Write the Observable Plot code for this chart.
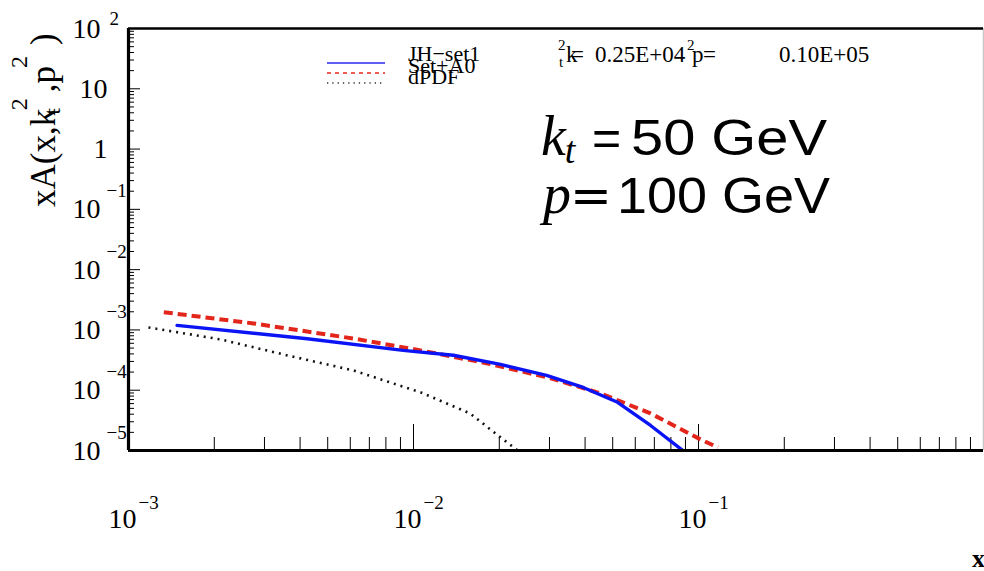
<!DOCTYPE html>
<html>
<head>
<meta charset="utf-8">
<script src="https://cdn.jsdelivr.net/npm/d3@7"></script>
<script src="https://cdn.jsdelivr.net/npm/@observablehq/plot@0.6"></script>
<style>
  html, body { margin: 0; padding: 0; background: #fff; overflow: hidden; }
  #chart svg { display: block; }
</style>
</head>
<body>
<div id="chart"></div>
<script>
// Unintegrated gluon density xA(x, kt^2, p^2) at kt = 50 GeV, p = 100 GeV

// JH-set1 (solid blue)
const jhX = [1.48e-3, 4.24e-3, 9.2e-3, 1.38e-2, 2.02e-2, 2.93e-2, 3.94e-2, 5.2e-2, 6.79e-2, 9.08e-2];
const jhY = [1.19e-3, 7.14e-4, 4.57e-4, 3.8e-4, 2.68e-4, 1.76e-4, 1.11e-4, 6.3e-5, 2.6e-5, 8.95e-6];

// Set+A0 (dashed red)
const setA0X = [1.33e-3, 2.75e-3, 6.15e-3, 1.06e-2, 1.82e-2, 3.03e-2, 4.53e-2, 6.79e-2, 0.1016, 0.117];
const setA0Y = [1.97e-3, 1.28e-3, 7.2e-4, 4.57e-4, 2.78e-4, 1.58e-4, 8.85e-5, 4.12e-5, 1.53e-5, 1.12e-5];

// dPDF (dotted black)
const dpdfX = [1.175e-3, 2.10e-3, 3.61e-3, 6.15e-3, 1.06e-2, 1.58e-2, 2.02e-2, 2.32e-2];
const dpdfY = [1.10e-3, 6.97e-4, 3.78e-4, 2.13e-4, 9.2e-5, 4.12e-5, 1.65e-5, 1.0e-5];

// Axis ticks and labels
const xDecades = [1e-3, 1e-2, 1e-1];
const xDecadeExps = ["\u22123", "\u22122", "\u22121"];
const xEdgeTick = [1];
const xEdgeLabel = ["1"];
const xMinor = [2,3,4,5,6,7,8,9].flatMap(m => [1e-3, 1e-2, 1e-1].map(d => m * d));

const yExpDecades = [1e-5, 1e-4, 1e-3, 1e-2, 1e-1];
const yDecadeExps = ["\u22125", "\u22124", "\u22123", "\u22122", "\u22121"];
const yTopDecade = [100];
const yTopExp = ["2"];
const yPlainDecades = [1, 10];
const yPlainLabels = ["1", "10"];
const yMajor = [1e-5, 1e-4, 1e-3, 1e-2, 1e-1, 1, 10, 100];
const yMinor = [2,3,4,5,6,7,8,9].flatMap(m => [1e-5, 1e-4, 1e-3, 1e-2, 1e-1, 1, 10].map(d => m * d));

const legendNames = ["JH\u2212set1", "Set+A0", "dPDF"];

const serif = "'Liberation Serif', 'Times New Roman', serif";
const sans = "'Liberation Sans', Arial, sans-serif";

const series = (xs, ys) => xs.map((x, i) => ({x, y: ys[i]}));

const W = 984, H = 571;
const mL = 128, mR = 1, mT = 28, mB = 121;
const innerW = W - mL - mR, innerH = H - mT - mB;

const labelStyle = {fontFamily: serif, fill: "#000", lineAnchor: "bottom"};

const chart = Plot.plot({
  width: W,
  height: H,
  marginLeft: mL,
  marginRight: mR,
  marginTop: mT,
  marginBottom: mB,
  style: {background: "#fff", overflow: "visible"},
  x: {type: "log", domain: [1e-3, 1], axis: null},
  y: {type: "log", domain: [1e-5, 100], axis: null},
  marks: [
    // inward tick marks
    Plot.ruleX(xMinor, {x: d => d, stroke: "#000", strokeWidth: 1, insetTop: innerH - 13}),
    Plot.ruleX(xDecades, {x: d => d, stroke: "#000", strokeWidth: 1, insetTop: innerH - 26}),
    Plot.ruleY(yMinor, {y: d => d, stroke: "#000", strokeWidth: 1, insetRight: innerW - 6}),
    Plot.ruleY(yMajor, {y: d => d, stroke: "#000", strokeWidth: 1, insetRight: innerW - 12}),

    // curves
    Plot.line(series(dpdfX, dpdfY), {x: "x", y: "y", stroke: "#111", strokeWidth: 2.6,
      strokeDasharray: "2,5", strokeLinecap: "butt", clip: true}),
    Plot.line(series(setA0X, setA0Y), {x: "x", y: "y", stroke: "#e3261b", strokeWidth: 4,
      strokeDasharray: "9,5", strokeLinecap: "butt", clip: true}),
    Plot.line(series(jhX, jhY), {x: "x", y: "y", stroke: "#0a14f5", strokeWidth: 3.4, clip: true}),

    // frame
    Plot.ruleX([1], {x: d => d, stroke: "#c8c8c8", strokeWidth: 1.5}),
    Plot.ruleY([100], {y: d => d, stroke: "#000", strokeWidth: 2.6}),
    Plot.ruleY([1e-5], {y: d => d, stroke: "#000", strokeWidth: 3.2}),
    Plot.ruleX([1e-3], {x: d => d, stroke: "#000", strokeWidth: 3.2}),

    // x tick labels
    Plot.text(xDecades, {...labelStyle, x: d => d, text: () => "10", frameAnchor: "bottom",
      textAnchor: "end", dx: 8, dy: 77, fontSize: 28}),
    Plot.text(xDecades, {...labelStyle, x: d => d, text: (d, i) => xDecadeExps[i], frameAnchor: "bottom",
      textAnchor: "start", dx: 10, dy: 58, fontSize: 19}),
    Plot.text(xEdgeTick, {...labelStyle, x: d => d, text: (d, i) => xEdgeLabel[i], frameAnchor: "bottom",
      textAnchor: "start", dx: -1, dy: 77, fontSize: 28}),

    // y tick labels
    Plot.text([...yExpDecades, ...yTopDecade], {...labelStyle, y: d => d, text: () => "10", frameAnchor: "left",
      textAnchor: "end", dx: -28, dy: 9, fontSize: 28}),
    Plot.text(yExpDecades, {...labelStyle, y: d => d, text: (d, i) => yDecadeExps[i], frameAnchor: "left",
      textAnchor: "start", dx: -22, dy: -12, fontSize: 19}),
    Plot.text(yTopDecade, {...labelStyle, y: d => d, text: (d, i) => yTopExp[i], frameAnchor: "left",
      textAnchor: "start", dx: -19, dy: -4, fontSize: 19}),
    Plot.text(yPlainDecades, {...labelStyle, y: d => d, text: (d, i) => yPlainLabels[i], frameAnchor: "left",
      textAnchor: "end", dx: -21, dy: 9, fontSize: 28})
  ]
});

document.getElementById("chart").appendChild(chart);

// Titles, legend and annotations drawn on top of the plot
const svg = d3.select(chart);
const g = svg.append("g").attr("text-anchor", "start");

// y-axis title: xA(x, k_t^2, p^2)
const yt = g.append("text")
  .attr("transform", "translate(55,207) rotate(-90)")
  .attr("font-family", serif).attr("font-size", 35).attr("fill", "#000");
yt.append("tspan").text("xA(x,k");
yt.append("tspan").attr("font-size", 24).attr("dx", -6).attr("dy", 5).text("t");
yt.append("tspan").attr("font-size", 24).attr("dx", -2).attr("dy", -33).text("2");
yt.append("tspan").attr("font-size", 35).attr("dx", 6).attr("dy", 28).text(",p");
yt.append("tspan").attr("font-size", 24).attr("dx", -2).attr("dy", -28).text("2");
yt.append("tspan").attr("font-size", 35).attr("dx", 11).attr("dy", 28).text(")");

// x-axis title
g.append("text").attr("x", 972).attr("y", 567)
  .attr("font-family", serif).attr("font-weight", "bold").attr("font-size", 26).text("x");

// legend
const legendKeys = [
  {stroke: "#2a2af0", width: 1.4, dash: null, y: 63},
  {stroke: "#e3261b", width: 1.4, dash: "4,4", y: 73},
  {stroke: "#333", width: 1.4, dash: "1.3,4", y: 83}
];
legendKeys.forEach((k, i) => {
  g.append("line").attr("x1", 327).attr("x2", 385).attr("y1", k.y).attr("y2", k.y)
    .attr("stroke", k.stroke).attr("stroke-width", k.width).attr("stroke-dasharray", k.dash);
  g.append("text").attr("x", 408).attr("y", 61 + i * 11.5)
    .attr("font-family", serif).attr("font-size", 22).attr("fill", "#000").text(legendNames[i]);
});

// scale settings line: kt^2 = 0.25E+04  p^2 = 0.10E+05
const st = g.append("text").attr("font-family", serif).attr("font-size", 23).attr("fill", "#000");
st.append("tspan").attr("x", 558).attr("y", 50).attr("font-size", 15).text("2");
st.append("tspan").attr("x", 559).attr("y", 67).attr("font-size", 15).text("t");
st.append("tspan").attr("x", 566).attr("y", 62).text("k");
st.append("tspan").attr("x", 571).attr("y", 62).text("=");
st.append("tspan").attr("x", 595).attr("y", 62).text("0.25E+04");
st.append("tspan").attr("x", 687).attr("y", 50).attr("font-size", 15).text("2");
st.append("tspan").attr("x", 692).attr("y", 62).text("p");
st.append("tspan").attr("x", 703).attr("y", 62).text("=");
st.append("tspan").attr("x", 779).attr("y", 62).text("0.10E+05");

// kinematic annotation
const a1 = g.append("text").attr("y", 155).attr("fill", "#000");
a1.append("tspan").attr("x", 541).attr("font-family", serif).attr("font-style", "italic").attr("font-size", 56).text("k");
a1.append("tspan").attr("font-family", serif).attr("font-style", "italic").attr("font-size", 38).attr("dx", -1).attr("dy", 8).text("t");
a1.append("tspan").attr("x", 592).attr("y", 155).attr("font-family", sans).attr("font-size", 50).text("=");
a1.append("tspan").attr("x", 631).attr("y", 155).attr("font-family", sans).attr("font-size", 50)
  .attr("textLength", 196).attr("lengthAdjust", "spacingAndGlyphs").text("50 GeV");

const a2 = g.append("text").attr("y", 213).attr("fill", "#000");
a2.append("tspan").attr("x", 543).attr("font-family", serif).attr("font-style", "italic").attr("font-size", 56).text("p");
a2.append("tspan").attr("x", 570).attr("font-family", "'DejaVu Serif', serif").attr("font-size", 50).text("=");
a2.append("tspan").attr("x", 617).attr("font-family", sans).attr("font-size", 50)
  .attr("textLength", 213).attr("lengthAdjust", "spacingAndGlyphs").text("100 GeV");
</script>
</body>
</html>
